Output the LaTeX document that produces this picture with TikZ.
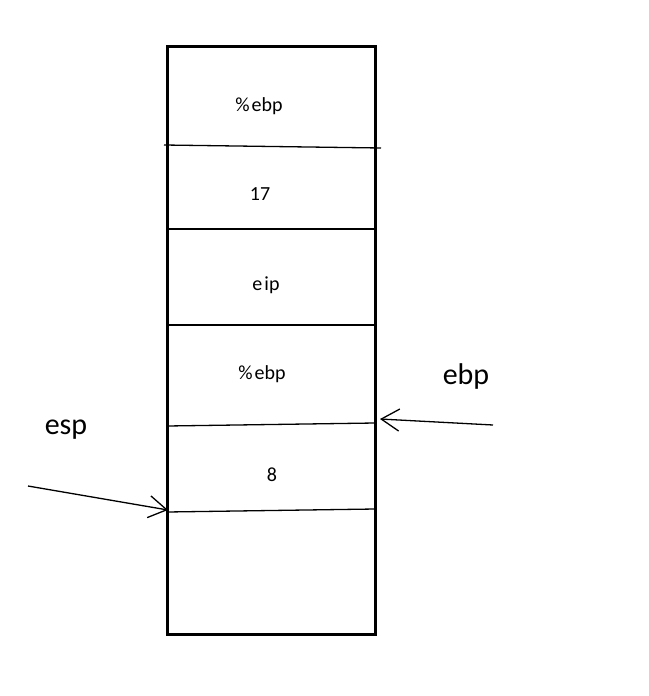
\documentclass[tikz,border=0pt]{standalone}
\usepackage{fontspec}
\setmainfont{Carlito}
\usetikzlibrary{arrows.meta}
\begin{document}
\begin{tikzpicture}[x=1pt,y=-1pt,
  cell/.style={font=\fontsize{20}{24}\selectfont,inner sep=0pt},
  biglabel/.style={font=\fontsize{30}{36}\selectfont,inner sep=0pt},
  thin/.style={line width=1.3pt},
  mid/.style={line width=2pt},
  ptr/.style={line width=1.3pt,-{Straight Barb[length=18pt,width=22pt,line width=1.3pt]}}]
\useasboundingbox (0,0) rectangle (648,696);
\draw[line width=3pt] (167,46) rectangle (375,634);
\draw[thin] (164,145) -- (381,148);
\draw[mid] (167,229) -- (375,229);
\draw[mid] (167,325) -- (375,325);
\draw[thin] (167,426) coordinate (l4) -- (375,423) coordinate (r4);
\draw[thin] (167,512) coordinate (l5) -- (375,509) coordinate (r5);
\node[cell] (t1) at (259,106) {\%\kern2pt ebp};
\node[cell] (t2) at (260,194) {17};
\node[cell] (t3) at (266,285) {e\kern2pt ip};
\node[cell] (t4) at (262,374) {\%\kern2pt ebp};
\node[cell] (t5) at (272,475) {8};
\node[biglabel] (ebp) at (466,376) {ebp};
\node[biglabel] (esp) at (66,430) {esp};
\coordinate (ebpstart) at (493,425);
\coordinate (ebpend) at (380,419);
\coordinate (espstart) at (28,486);
\coordinate (espend) at (168,510);
\draw[ptr] (ebpstart) -- (ebpend);
\draw[ptr] (espstart) -- (espend);
\end{tikzpicture}
\end{document}
